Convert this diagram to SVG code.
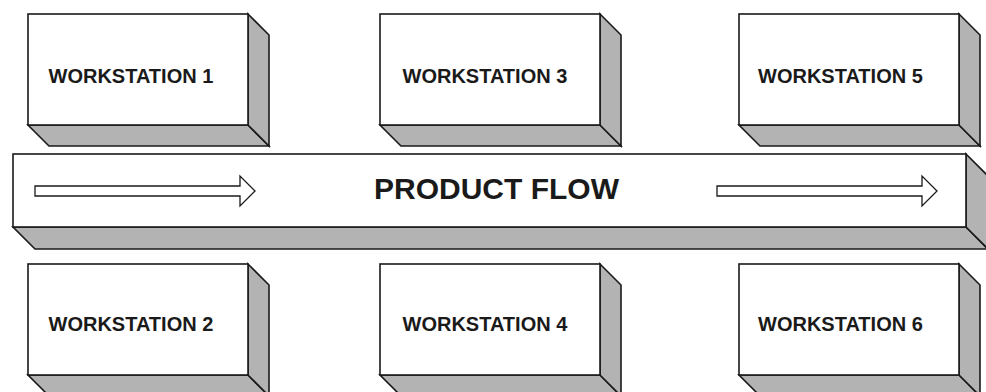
<svg xmlns="http://www.w3.org/2000/svg" width="986" height="392" viewBox="0 0 986 392">
<style>
.front{fill:#ffffff;stroke:#1a1a1a;stroke-width:1.6}
.side{fill:#b3b3b3;stroke:#1a1a1a;stroke-width:1.6;stroke-linejoin:miter}
.lbl{font-family:"Liberation Sans",Arial,sans-serif;font-weight:bold;font-size:20px;fill:#1a1a1a}
.big{font-family:"Liberation Sans",Arial,sans-serif;font-weight:bold;font-size:30px;fill:#1a1a1a}
.arrow{fill:#ffffff;stroke:#1a1a1a;stroke-width:1.3}
</style>
<defs>
<g id="box">
<polygon class="side" points="0,111 220,111 241,132 21,132"/>
<polygon class="side" points="220,0 241,21 241,132 220,111"/>
<rect class="front" x="0" y="0" width="220" height="111"/>
</g>
</defs>
<rect width="986" height="392" fill="#ffffff"/>
<g id="ws1"><use href="#box" x="28" y="14"/><text class="lbl" x="48.5" y="83">WORKSTATION 1</text></g>
<g id="ws3"><use href="#box" x="380" y="14"/><text class="lbl" x="402.5" y="83">WORKSTATION 3</text></g>
<g id="ws5"><use href="#box" x="739" y="14"/><text class="lbl" x="758" y="83">WORKSTATION 5</text></g>
<g id="ws2"><use href="#box" x="28" y="264"/><text class="lbl" x="48.5" y="331">WORKSTATION 2</text></g>
<g id="ws4"><use href="#box" x="380" y="264"/><text class="lbl" x="402.5" y="331">WORKSTATION 4</text></g>
<g id="ws6"><use href="#box" x="739" y="264"/><text class="lbl" x="758" y="331">WORKSTATION 6</text></g>
<g id="product-flow">
<polygon class="side" points="13,227 966,227 988,249 35,249"/>
<polygon class="side" points="966,154 988,176 988,249 966,227"/>
<rect class="front" x="13" y="154" width="953" height="73"/>
<text class="big" x="374" y="199">PRODUCT FLOW</text>
</g>
<g id="connectors">
<polygon class="arrow" points="35,186 240,186 240,176 255,191 240,206 240,196 35,196"/>
<polygon class="arrow" points="717,186 922,186 922,176 937,191 922,206 922,196 717,196"/>
</g>
</svg>
